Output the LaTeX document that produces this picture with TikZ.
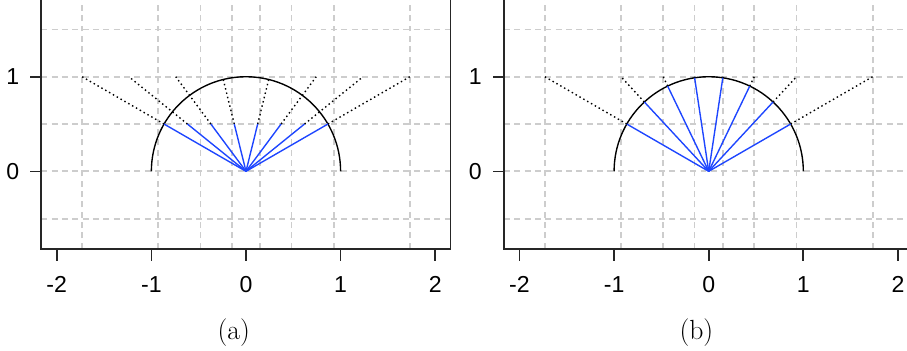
\documentclass[tikz,border=0pt]{standalone}
\usepackage{fontspec}
\setsansfont{Liberation Sans}
\usepackage{tikz}
\usepackage{xcolor}

\definecolor{rayblue}{RGB}{30,70,255}
\definecolor{gridgray}{RGB}{205,205,205}

\begin{document}
\begin{tikzpicture}[x=1.8cm, y=1.8cm,
  gridline/.style={gridgray, line width=1.0pt, dash pattern=on 3.2pt off 2.4pt},
  plotbox/.style={black!85, line width=0.9pt},
  ray/.style={rayblue, line width=0.75pt},
  rayext/.style={black, line width=0.75pt, dash pattern=on 0.8pt off 1.6pt},
  arcline/.style={black, line width=0.75pt},
  ticklabel/.style={font=\sffamily\fontsize{12.5}{15}\selectfont, inner sep=1pt},
  caption/.style={font=\fontsize{15}{18}\selectfont, inner sep=1pt}]

  % Visible window (the top of both frames is cut off)
  \clip (-2.6,-1.899) rectangle (6.987,1.811);

  % Frames, grids, axes and captions
  \foreach \px/\lab in {0/a, 4.891/b} {
    \begin{scope}[shift={(\px,0)}]
      \foreach \gy in {-0.5,0,0.5,1,1.5}
        \draw[gridline] (-2.164,\gy) -- (2.16,\gy);
      \foreach \k in {0,...,7} {
        \pgfmathsetmacro\gx{tan(-60+\k*120/7)}
        \draw[gridline] (\gx,-0.818) -- (\gx,2.2);
      }
      \draw[plotbox] (-2.164,2.2) -- (-2.164,-0.818) -- (2.16,-0.818) -- (2.16,2.2);
      \foreach \t in {-2,...,2} {
        \draw[plotbox] (\t,-0.818) -- (\t,-0.945);
        \node[ticklabel] (xt\lab\t) at (\t,-1.194) {\t};
      }
      \foreach \t in {0,1} {
        \draw[plotbox] (-2.164,\t) -- (-2.283,\t);
        \node[ticklabel] (yt\lab\t) at (-2.466,\t) {\t};
      }
      \node[caption] (cap\lab) at (-0.13,-1.70) {(\lab)};
      % Unit half circle
      \draw[arcline] (1,0) arc[start angle=0, end angle=180, radius=1];
    \end{scope}
  }

  % (a): rays equally spaced along y = 1, cut at y = 0.5
  \coordinate (oa) at (0,0);
  \foreach \k in {0,...,7} {
    \pgfmathsetmacro\ex{-sqrt(3)+\k*2*sqrt(3)/7}
    \coordinate (pa\k) at ({\ex/2},0.5);
    \coordinate (ea\k) at (\ex,1);
    \draw[rayext] (pa\k) -- (ea\k);
    \draw[ray] (oa) -- (pa\k);
  }

  % (b): rays at equal angles, cut at the circle
  \begin{scope}[shift={(4.891,0)}]
    \coordinate (ob) at (0,0);
    \foreach \k in {0,...,7} {
      \pgfmathsetmacro\th{-60+\k*120/7}
      \coordinate (pb\k) at (90-\th:1);
      \coordinate (eb\k) at ({tan(\th)},1);
      \draw[rayext] (pb\k) -- (eb\k);
      \draw[ray] (ob) -- (pb\k);
    }
  \end{scope}
\end{tikzpicture}
\end{document}
